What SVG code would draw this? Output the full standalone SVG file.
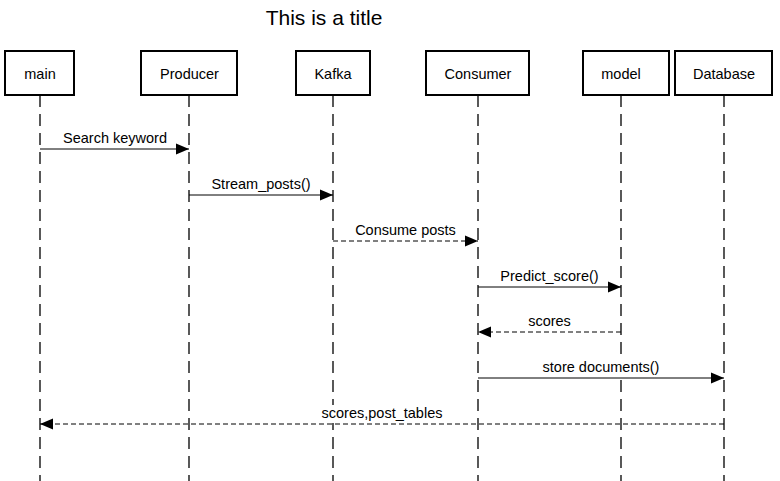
<svg xmlns="http://www.w3.org/2000/svg" width="780" height="481" viewBox="0 0 780 481">
<style>
.box{fill:#fff;stroke:#000;stroke-width:2}
.life{stroke:#000;stroke-width:1.3;stroke-dasharray:12 7;fill:none}
.msg{stroke:#000;stroke-width:1;fill:none}
.dash{stroke-dasharray:5 3}
.lbg{fill:#fff;stroke:none}
text{font-family:"Liberation Sans",Arial,sans-serif;font-size:14.5px;fill:#000;text-anchor:middle}
.title{font-size:21px}
</style>
<defs>
<marker id="ah" markerUnits="userSpaceOnUse" markerWidth="14" markerHeight="12" refX="13" refY="6" orient="auto">
<path d="M0,0.5 L13,6 L0,11.5 Z" fill="#000"/>
</marker>
</defs>
<rect width="780" height="481" fill="#fff"/>
<text class="title" x="324" y="25">This is a title</text>
<g id="main"><line class="life" x1="40" y1="95" x2="40" y2="481"/><rect class="box" x="5" y="51" width="69" height="44"/><text x="40" y="79">main</text></g>
<g id="producer"><line class="life" x1="189" y1="95" x2="189" y2="481"/><rect class="box" x="141" y="51" width="96" height="44"/><text x="189.5" y="79">Producer</text></g>
<g id="kafka"><line class="life" x1="333" y1="95" x2="333" y2="481"/><rect class="box" x="296" y="51" width="74" height="44"/><text x="333" y="79">Kafka</text></g>
<g id="consumer"><line class="life" x1="478" y1="95" x2="478" y2="481"/><rect class="box" x="426" y="51" width="103" height="44"/><text x="478" y="79">Consumer</text></g>
<g id="model"><line class="life" x1="621" y1="95" x2="621" y2="481"/><rect class="box" x="583" y="51" width="86" height="44"/><text x="621" y="79">model</text></g>
<g id="database"><line class="life" x1="724" y1="95" x2="724" y2="481"/><rect class="box" x="675" y="51" width="97" height="44"/><text x="724" y="79">Database</text></g>
<g id="connectors">
<line class="msg" x1="40" y1="149" x2="189" y2="149" marker-end="url(#ah)"/>
<text x="115" y="143">Search keyword</text>
<line class="msg" x1="189" y1="195" x2="333" y2="195" marker-end="url(#ah)"/>
<text x="261" y="189">Stream_posts()</text>
<line class="msg dash" x1="333" y1="241" x2="478" y2="241" marker-end="url(#ah)"/>
<text x="405.5" y="235">Consume posts</text>
<line class="msg" x1="478" y1="287" x2="621" y2="287" marker-end="url(#ah)"/>
<text x="549.5" y="281">Predict_score()</text>
<line class="msg dash" x1="621" y1="332" x2="478" y2="332" marker-end="url(#ah)"/>
<text x="549.5" y="326">scores</text>
<line class="msg" x1="478" y1="378" x2="724" y2="378" marker-end="url(#ah)"/>
<rect class="lbg" x="541" y="359" width="121" height="18"/>
<text x="601" y="372">store documents()</text>
<line class="msg dash" x1="724" y1="424" x2="40" y2="424" marker-end="url(#ah)"/>
<rect class="lbg" x="320" y="405" width="124" height="18"/>
<text x="382" y="418">scores,post_tables</text>
</g>
</svg>
